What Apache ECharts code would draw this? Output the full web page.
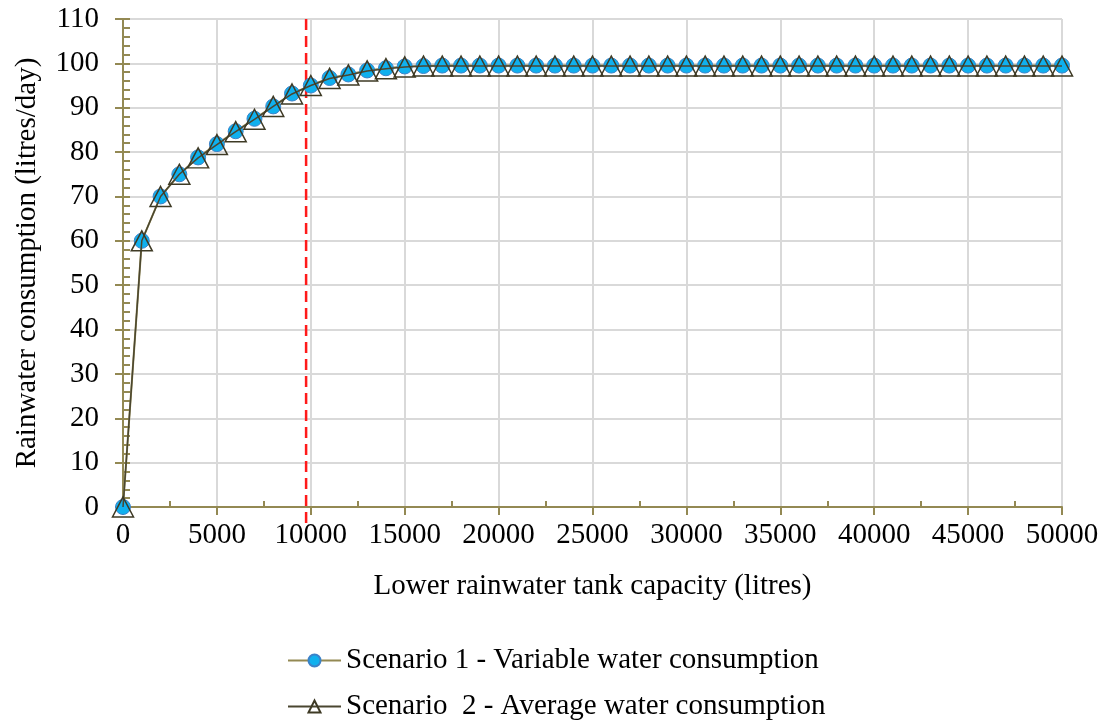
<!DOCTYPE html>
<html>
<head>
<meta charset="utf-8">
<script src="https://cdn.jsdelivr.net/npm/echarts@6/dist/echarts.min.js"></script>
<style>html,body{margin:0;padding:0;background:#fff}#c{width:1105px;height:722px}</style>
</head>
<body>
<div id="c"></div>
<script>
const capacities = [0,1000,2000,3000,4000,5000,6000,7000,8000,9000,10000,11000,12000,13000,14000,15000,16000,17000,18000,19000,20000,21000,22000,23000,24000,25000,26000,27000,28000,29000,30000,31000,32000,33000,34000,35000,36000,37000,38000,39000,40000,41000,42000,43000,44000,45000,46000,47000,48000,49000,50000];
const scenario1 = [0,60,70,75,78.8,81.8,84.7,87.5,90.3,93.2,95.0,96.7,97.5,98.4,98.9,99.3,99.4,99.5,99.5,99.5,99.5,99.5,99.5,99.5,99.5,99.5,99.5,99.5,99.5,99.5,99.5,99.5,99.5,99.5,99.5,99.5,99.5,99.5,99.5,99.5,99.5,99.5,99.5,99.5,99.5,99.5,99.5,99.5,99.5,99.5,99.5];
const scenario2 = [0,60,70,75,78.7,81.7,84.6,87.4,90.3,93.1,95.0,96.6,97.4,98.3,98.8,99.2,99.4,99.4,99.4,99.4,99.4,99.4,99.4,99.4,99.4,99.4,99.4,99.4,99.4,99.4,99.4,99.4,99.4,99.4,99.4,99.4,99.4,99.4,99.4,99.4,99.4,99.4,99.4,99.4,99.4,99.4,99.4,99.4,99.4,99.4,99.4];
const thresholdCapacity = 9750;
const thresholdSpan = [110, -4.5];
const seriesNames = ['Scenario 1 - Variable water consumption', 'Scenario  2 - Average water consumption'];

const font = "'Liberation Serif', 'Times New Roman', serif";
const fs = 29;
const axisColor = '#938953';
const chart = echarts.init(document.getElementById('c'));
chart.setOption({
  animation: false,
  textStyle: {fontFamily: font},
  grid: {left: 123, right: 43, top: 19, bottom: 215, containLabel: false},
  legend: {
    orient: 'vertical', left: 287, top: 646, itemGap: 17, padding: 0,
    itemWidth: 53, itemHeight: 15,
    textStyle: {fontFamily: font, fontSize: fs, color: '#000'},
    data: seriesNames
  },
  xAxis: [{
    type: 'value', min: 0, max: 50000, interval: 5000,
    axisLine: {show: true, lineStyle: {color: axisColor, width: 2}},
    axisTick: {show: true, inside: false, length: 8, lineStyle: {color: axisColor, width: 2}},
    axisLabel: {color: '#000', fontSize: fs, fontFamily: font, margin: 14, formatter: v => String(v)},
    splitLine: {show: true, lineStyle: {color: '#d9d9d9', width: 2}},
    name: 'Lower rainwater tank capacity (litres)', nameLocation: 'middle', nameGap: 65,
    nameTextStyle: {color: '#000', fontSize: fs, fontFamily: font}
  }, {
    type: 'value', min: 0, max: 50000, interval: 5000, position: 'bottom', offset: 0,
    axisLine: {show: false}, axisLabel: {show: false}, splitLine: {show: false},
    axisTick: {show: false, inside: true},
    minorTick: {show: true, splitNumber: 2, length: 6, lineStyle: {color: axisColor, width: 2}},
    minorSplitLine: {show: false}
  }],
  yAxis: [{
    type: 'value', min: 0, max: 110, interval: 10,
    axisLine: {show: true, lineStyle: {color: axisColor, width: 2}},
    axisTick: {show: true, inside: false, length: 8, lineStyle: {color: axisColor, width: 2}},
    axisLabel: {color: '#000', fontSize: fs, fontFamily: font, margin: 24},
    splitLine: {show: true, lineStyle: {color: '#d9d9d9', width: 2}},
    name: 'Rainwater consumption (litres/day)', nameLocation: 'middle', nameGap: 81, nameRotate: 90,
    nameTextStyle: {color: '#000', fontSize: fs, fontFamily: font}
  }, {
    type: 'value', min: 0, max: 110, interval: 10, position: 'left', offset: 0,
    axisLine: {show: false}, axisLabel: {show: false}, splitLine: {show: false},
    axisTick: {show: true, inside: true, length: 7, lineStyle: {color: axisColor, width: 2}},
    minorTick: {show: true, splitNumber: 5, length: 7, lineStyle: {color: axisColor, width: 2}}
  }],
  series: [{
    name: seriesNames[0], type: 'line', xAxisIndex: 0, yAxisIndex: 0,
    data: capacities.map((c, i) => [c, scenario1[i]]),
    symbol: 'circle', symbolSize: 15, showAllSymbol: true,
    lineStyle: {color: axisColor, width: 2},
    itemStyle: {color: '#10b0ee', borderColor: '#3d82c8', borderWidth: 1},
    z: 3
  }, {
    name: seriesNames[1], type: 'line', xAxisIndex: 0, yAxisIndex: 0,
    data: capacities.map((c, i) => [c, scenario2[i]]),
    symbol: 'triangle', symbolSize: [21, 20], showAllSymbol: true,
    lineStyle: {color: '#4a4630', width: 1.5},
    itemStyle: {color: 'rgba(255,255,255,0)', borderColor: '#3e3a25', borderWidth: 1.5},
    z: 4
  }, {
    name: 'threshold', type: 'custom', xAxisIndex: 0, yAxisIndex: 0, clip: false, silent: true,
    data: [[thresholdCapacity]],
    renderItem: function (params, api) {
      const x = api.value(0);
      const p1 = api.coord([x, thresholdSpan[0]]);
      const p2 = api.coord([x, thresholdSpan[1]]);
      return {
        type: 'line',
        shape: {x1: p1[0], y1: p1[1], x2: p2[0], y2: p2[1]},
        style: {stroke: '#ff1a1a', lineWidth: 2.5, lineDash: [11, 6]}
      };
    },
    z: 2
  }]
});
</script>
</body>
</html>
